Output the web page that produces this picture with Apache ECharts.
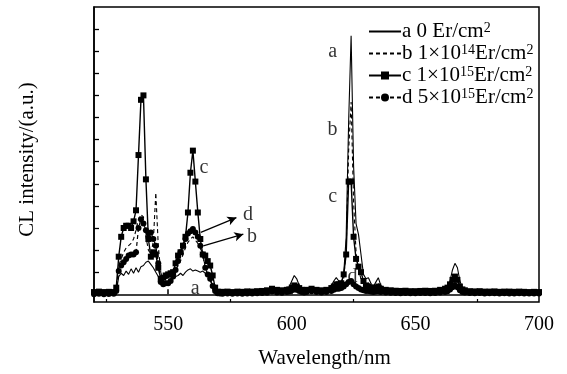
<!DOCTYPE html>
<html>
<head>
<meta charset="utf-8">
<script src="https://cdn.jsdelivr.net/npm/echarts@6/dist/echarts.min.js"></script>
<style>
html,body{margin:0;padding:0;background:#fff;}
#chart{width:567px;height:374px;}
</style>
</head>
<body>
<div id="chart"></div>
<script>
// Wavelength (nm)
var wavelengths = [
520,522,524,526,528,
529,530,531,532,533,534,535,536,537,538,539,540,541,542,543,544,545,546,547,548,549,550,551,552,553,554,555,556,557,558,559,560,561,562,563,564,565,566,567,568,569,570,571,572,
574,576,578,580,582,584,586,588,590,592,594,596,598,
599,600,601,602,603,604,605,606,
608,610,612,614,616,
617,618,619,620,621,622,623,624,625,626,627,628,629,630,631,632,633,634,635,636,
638,640,642,644,646,648,650,652,654,656,658,660,
662,663,664,665,666,667,668,669,670,
672,674,676,678,680,682,684,686,688,690,692,694,696,698,700
];
// a: 0 Er/cm2
var seriesA = [
0.05,0.06,0.04,0.05,0.06,
0.1,0.8,0.95,0.85,1.05,0.9,1.15,0.95,1.2,1.0,1.25,1.3,1.45,1.5,1.35,1.2,1.0,0.8,0.5,0.35,0.45,0.55,0.6,0.7,0.8,0.85,0.95,0.85,1.0,1.1,1.15,1.05,1.1,1.05,1.0,1.05,0.95,0.9,0.6,0.4,0.15,0.08,0.06,0.05,
0.06,0.05,0.07,0.06,0.08,0.07,0.1,0.12,0.15,0.35,0.2,0.15,0.2,
0.35,0.6,0.85,0.7,0.4,0.2,0.15,0.2,
0.35,0.2,0.15,0.2,0.4,
0.6,0.75,0.6,0.5,0.9,2.6,7.8,11.7,5.8,3.2,2.7,1.8,0.9,0.7,0.75,0.5,0.35,0.55,0.75,0.4,
0.25,0.2,0.15,0.12,0.15,0.12,0.1,0.12,0.15,0.12,0.15,0.2,
0.25,0.35,0.6,1.1,1.4,1.2,0.6,0.3,0.2,
0.12,0.1,0.12,0.1,0.08,0.1,0.08,0.1,0.09,0.08,0.1,0.08,0.07,0.08,0.07
];
// b: 1x10^14 Er/cm2
var seriesB = [
0.08,0.07,0.08,0.06,0.08,
0.2,1.3,1.6,1.9,2.1,2.2,2.3,2.5,2.9,3.4,3.6,3.5,2.6,2.0,1.8,2.4,4.6,2.2,1.0,0.6,0.7,0.75,0.8,0.95,1.1,1.3,1.5,1.8,2.1,2.35,2.5,2.6,2.45,2.3,2.1,1.7,1.3,1.0,0.7,0.4,0.2,0.1,0.08,0.07,
0.08,0.07,0.09,0.08,0.1,0.09,0.12,0.14,0.18,0.28,0.2,0.16,0.2,
0.25,0.35,0.45,0.4,0.3,0.2,0.18,0.22,
0.3,0.22,0.18,0.22,0.3,
0.4,0.5,0.45,0.4,0.7,2.0,6.5,8.7,4.2,1.9,1.1,0.7,0.5,0.45,0.5,0.4,0.3,0.4,0.5,0.3,
0.22,0.18,0.15,0.13,0.15,0.12,0.12,0.13,0.15,0.13,0.15,0.18,
0.22,0.28,0.45,0.75,0.9,0.75,0.4,0.25,0.18,
0.12,0.11,0.12,0.1,0.1,0.11,0.09,0.1,0.1,0.09,0.1,0.09,0.08,0.09,0.08
];
// c: 1x10^15 Er/cm2
var seriesC = [
0.1,0.12,0.1,0.11,0.1,
0.3,1.7,2.6,3.0,3.1,3.1,3.0,3.3,3.8,6.3,8.8,9.0,5.2,2.5,1.7,1.9,1.8,1.2,0.7,0.75,0.85,0.9,0.95,1.0,1.4,1.75,1.9,2.2,2.6,3.7,5.5,6.5,5.1,3.7,2.5,1.8,1.75,1.5,1.3,0.85,0.3,0.12,0.1,0.11,
0.12,0.1,0.12,0.11,0.13,0.12,0.14,0.15,0.18,0.25,0.2,0.18,0.2,
0.22,0.3,0.4,0.35,0.28,0.2,0.18,0.2,
0.25,0.2,0.18,0.2,0.28,
0.35,0.45,0.45,0.5,0.9,1.8,5.1,5.1,2.6,1.6,1.25,1.0,0.6,0.4,0.35,0.3,0.25,0.3,0.35,0.25,
0.2,0.18,0.16,0.15,0.16,0.14,0.14,0.15,0.16,0.15,0.16,0.2,
0.25,0.3,0.45,0.65,0.8,0.65,0.35,0.22,0.18,
0.14,0.13,0.14,0.12,0.12,0.13,0.11,0.12,0.12,0.11,0.12,0.11,0.1,0.11,0.1
];
// d: 5x10^15 Er/cm2
var seriesD = [
0.0,0.02,0.0,0.01,0.02,
0.15,1.05,1.3,1.45,1.6,1.75,1.8,1.8,1.9,3.0,3.4,3.2,2.9,2.75,2.8,2.5,2.2,1.4,0.55,0.45,0.5,0.5,0.6,0.8,1.1,1.5,1.9,2.2,2.5,2.75,2.85,2.95,2.8,2.6,2.2,1.8,1.2,0.9,0.7,0.37,0.15,0.05,0.03,0.02,
0.03,0.02,0.03,0.02,0.04,0.03,0.05,0.06,0.07,0.12,0.08,0.07,0.1,
0.12,0.18,0.22,0.2,0.15,0.1,0.08,0.1,
0.14,0.1,0.08,0.1,0.15,
0.2,0.25,0.25,0.28,0.35,0.45,0.55,0.6,0.45,0.35,0.28,0.22,0.18,0.15,0.15,0.12,0.1,0.12,0.14,0.1,
0.08,0.07,0.06,0.05,0.06,0.05,0.05,0.06,0.06,0.05,0.06,0.08,
0.1,0.14,0.22,0.32,0.4,0.32,0.18,0.1,0.08,
0.06,0.05,0.06,0.04,0.05,0.05,0.04,0.05,0.04,0.04,0.05,0.04,0.03,0.04,0.03
];
var seriesNames = ['a', 'b', 'c', 'd'];
var legendLabels = [
  '{t|a 0 Er/cm}{s|2}',
  '{t|b 1×10}{s|14}{t|Er/cm}{s|2}',
  '{t|c 1×10}{s|15}{t|Er/cm}{s|2}',
  '{t|d 5×10}{s|15}{t|Er/cm}{s|2}'
];
var xTickLabels = [550, 600, 650, 700];
var xMinorTicks = [525, 575, 625, 675];
var yTicks = [0,1,2,3,4,5,6,7,8,9,10,11,12];
// curve labels [wavelength, intensity, text]
var curveLabels = [
  [616.5, 10.97, 'a'], [616.5, 7.45, 'b'], [616.5, 4.43, 'c'], [624.6, 0.8, 'd'],
  [564.5, 5.74, 'c'], [582.3, 3.58, 'd'], [583.9, 2.59, 'b'], [560.9, 0.24, 'a']
];
var arrows = [
  [[563.2, 2.8], [577.6, 3.47]],
  [[564.2, 2.19], [580.4, 2.72]]
];

var FONT = 'Liberation Serif';
function pairs(v) { return wavelengths.map(function (w, i) { return [w, v[i]]; }); }

var chart = echarts.init(document.getElementById('chart'), null, {renderer: 'canvas'});
var option = {
  animation: false,
  backgroundColor: '#fff',
  grid: {left: 94, right: 28, top: 7, bottom: 71, show: true, borderColor: '#000', borderWidth: 1.5, backgroundColor: 'transparent'},
  legend: {
    orient: 'vertical', left: 363, top: 16, itemWidth: 32, itemHeight: 10, itemGap: 1,
    data: [
      {name: 'a', itemStyle: {opacity: 0}},
      {name: 'b', itemStyle: {opacity: 0}},
      {name: 'c'},
      {name: 'd'}
    ],
    formatter: function (name) { return legendLabels[seriesNames.indexOf(name)]; },
    textStyle: {
      color: '#000', fontFamily: FONT, fontSize: 21, padding: [0, 0, 0, -4],
      rich: {
        t: {fontFamily: FONT, fontSize: 21, color: '#000', lineHeight: 21},
        s: {fontFamily: FONT, fontSize: 14, color: '#000', verticalAlign: 'top', lineHeight: 13}
      }
    }
  },
  xAxis: [{
    type: 'value', min: 520, max: 700,
    name: 'Wavelength/nm', nameLocation: 'middle', nameGap: 46,
    nameTextStyle: {fontFamily: FONT, fontSize: 21, color: '#000', padding: [0, 0, 0, 16]},
    axisLine: {show: true, lineStyle: {color: '#000', width: 1.5}},
    axisTick: {show: true, inside: true, length: 5, customValues: xTickLabels, lineStyle: {color: '#000', width: 1.5}},
    axisLabel: {show: true, customValues: xTickLabels, margin: 13, fontFamily: FONT, fontSize: 20, color: '#000'},
    splitLine: {show: false}
  }, {
    type: 'value', min: 520, max: 700, position: 'bottom', gridIndex: 0,
    axisLine: {show: false},
    axisTick: {show: true, inside: true, length: 3, customValues: xMinorTicks, lineStyle: {color: '#000', width: 1.2}},
    axisLabel: {show: false},
    splitLine: {show: false}
  }],
  yAxis: {
    type: 'value', min: -0.35, max: 13,
    name: 'CL intensity/(a.u.)', nameLocation: 'middle', nameGap: 56,
    nameTextStyle: {fontFamily: FONT, fontSize: 21, color: '#000', padding: [0, 0, 0, -10]},
    axisLine: {show: true, lineStyle: {color: '#000', width: 1.5}},
    axisTick: {show: true, inside: true, length: 5, customValues: yTicks, lineStyle: {color: '#000', width: 1.3}},
    axisLabel: {show: false},
    splitLine: {show: false}
  },
  series: [
    {name: 'a', type: 'line', data: pairs(seriesA), symbol: 'none',
     lineStyle: {color: '#000', width: 1.1}, itemStyle: {color: '#000'}, z: 3},
    {name: 'b', type: 'line', data: pairs(seriesB), symbol: 'none',
     lineStyle: {color: '#000', width: 1.1, type: [4, 3]}, itemStyle: {color: '#000'}, z: 3},
    {name: 'c', type: 'line', data: pairs(seriesC), symbol: 'rect', symbolSize: 6, showAllSymbol: true,
     lineStyle: {color: '#000', width: 1.4}, itemStyle: {color: '#000'}, z: 4},
    {name: 'd', type: 'line', data: pairs(seriesD), symbol: 'circle', symbolSize: 6, showAllSymbol: true,
     lineStyle: {color: '#000', width: 1.2, type: [4, 3]}, itemStyle: {color: '#000'}, z: 4},
    {name: 'labels', type: 'scatter', data: curveLabels, symbolSize: 1, silent: true,
     itemStyle: {color: 'transparent'}, z: 6,
     label: {show: true, position: 'inside', formatter: function (p) { return p.data[2]; },
       fontFamily: FONT, fontSize: 20, color: '#000'},
     markLine: {
       silent: true, symbol: ['none', 'arrow'], symbolSize: [7, 9],
       label: {show: false},
       lineStyle: {color: '#000', width: 1.2, type: 'solid'},
       data: arrows.map(function (a) { return [{coord: a[0]}, {coord: a[1]}]; })
     }}
  ]
};
chart.setOption(option);
</script>
</body>
</html>
